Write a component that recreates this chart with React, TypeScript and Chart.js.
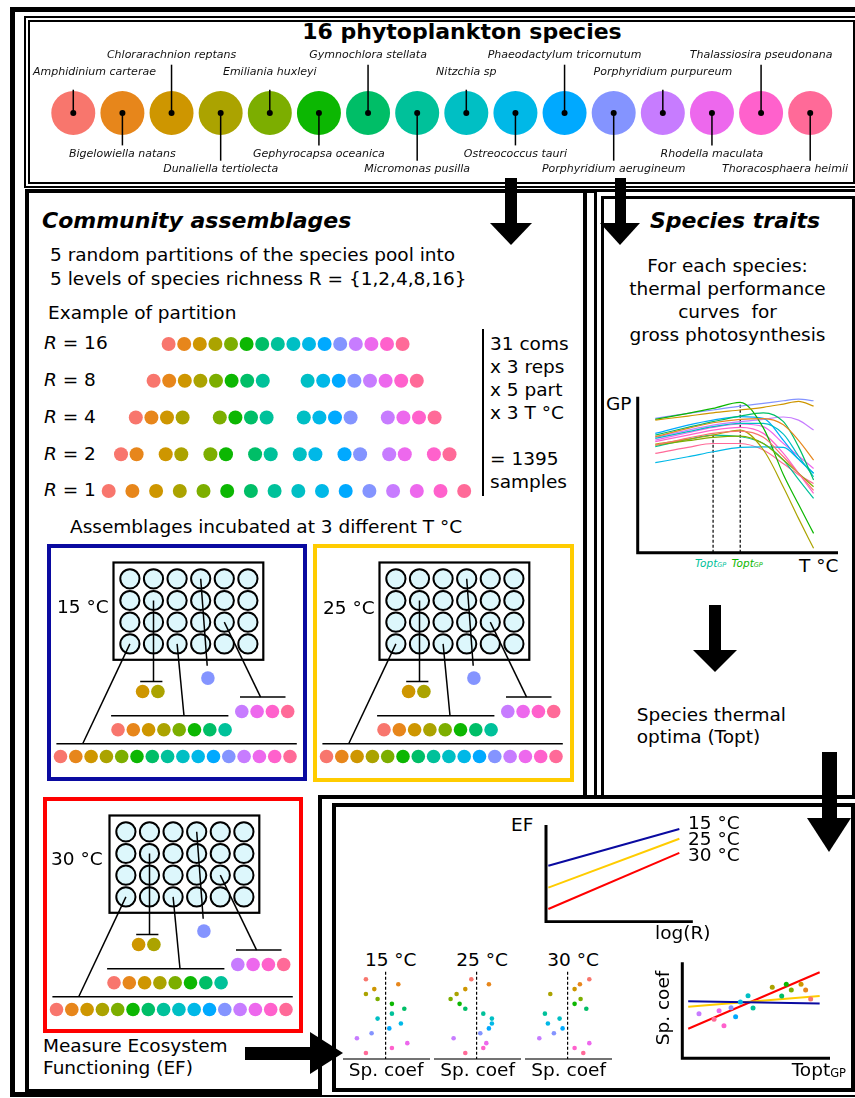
import React, { useEffect, useRef } from "react";
import { Chart, registerables } from "chart.js";

Chart.register(...registerables);

const FONT = '"DejaVu Sans", Verdana, sans-serif';
const BODY = 18.5;

// ======================= DATA =======================
const speciesNames = [
  "Amphidinium carterae", "Bigelowiella natans", "Chlorarachnion reptans", "Dunaliella tertiolecta",
  "Emiliania huxleyi", "Gephyrocapsa oceanica", "Gymnochlora stellata", "Micromonas pusilla",
  "Nitzchia sp", "Ostreococcus tauri", "Phaeodactylum tricornutum", "Porphyridium aerugineum",
  "Porphyridium purpureum", "Rhodella maculata", "Thalassiosira pseudonana", "Thoracosphaera heimii",
];
const speciesColors = [
  "#F8766D", "#E7861B", "#CE9600", "#ABA300", "#7CAE00", "#0CB702", "#00BE67", "#00C19A",
  "#00BFC4", "#00B8E7", "#00A9FF", "#8494FF", "#C77CFF", "#ED68ED", "#FF61CC", "#FF6A98",
];
const richnessLevels = [16, 8, 4, 2, 1];
const designLines = ["31 coms", "x 3 reps", "x 5 part", "x 3 T °C", "", "= 1395", "samples"];
const temperatures = ["15 °C", "25 °C", "30 °C"];
const temperatureColors = ["#0A0AA0", "#FFCC00", "#FF0000"];
// species sampled in the example wells of each plate
const plateAssemblages = [
  [0, 1, 2, 3, 4, 5, 6, 7, 8, 9, 10, 11, 12, 13, 14, 15],
  [2, 3],
  [0, 1, 2, 3, 4, 5, 6, 7],
  [11],
  [12, 13, 14, 15],
];
// thermal performance curves (GP vs T)
const gpTemps = [3.5, 10, 15, 20.4, 25, 29, 32, 35];
const gpCurves = [
  [69, 73.5, 76.5, 78, 74, 61.5, 51, 40],
  [74.4, 79.7, 83.3, 85.5, 86, 82, 72, 59.4],
  [85, 87.6, 89.7, 91.5, 93.2, 95.3, 97, 94],
  [69.7, 72.6, 75.4, 78.6, 66, 42, 22, 2.8],
  [69, 71.8, 73.9, 74.8, 70, 59.4, 51, 42.3],
  [85.5, 89.3, 92.5, 96.4, 80, 50, 31, 12.4],
  [75.4, 80.3, 84, 87.6, 89.7, 84, 68, 46.6],
  [68, 72.6, 75.4, 74.4, 70, 59.4, 47, 34.8],
  [73.3, 77.6, 80.8, 82.9, 82.9, 76, 62, 48.7],
  [57.7, 61.5, 64.7, 67.5, 67.9, 67.5, 60, 50.9],
  [76.5, 81.8, 85, 87.2, 86.1, 72, 60, 50.9],
  [86.1, 89.3, 91.5, 94, 95.7, 97.4, 98.5, 97.4],
  [73.9, 78.6, 81.8, 84, 85.5, 87, 85, 78.6],
  [72.2, 76.9, 80.3, 82.5, 80.8, 70, 62, 54],
  [71.2, 75.4, 78.6, 80.3, 76.5, 63.7, 51, 38],
  [63.7, 67.5, 70, 70, 65.8, 57, 50, 44.4],
];
const toptSpecies = [7, 5];
const toptTemps = [15, 20.4];
const toptPeakGP = [75.4, 96.4];
// EF vs log(R)
const efLogR = [0.07, 4];
const ef15 = [5.79, 9.59];
const ef25 = [3.52, 8.58];
const ef30 = [1.31, 7.12];
// species coefficients per temperature (species order)
const spCoef15 = [-1.97, 1.27, -1.13, -1.97, -0.8, 0.63, 1.87, 0.63, -0.8, 1.53, 0.37, -1.4, -2.87, 2.17, 0.63, -1.97];
const spCoef25 = [-0.53, 1.23, -1.13, -2.0, -2.6, -1.7, -1.13, 0.67, 1.53, 1.53, 1.23, 0.37, -2.3, 0.97, 0.67, -1.13];
const spCoef30 = [2.17, 1.23, 0.7, -1.73, 1.3, 0.7, 1.87, -2.27, -0.8, -1.97, -0.5, -1.37, -2.83, 2.17, 0.7, 1.57];
// species coefficient vs Topt
const toptGP = [8.69, 8.35, 8.04, 6.09, 7.38, 7.04, 6.73, 4.79, 4.45, 3.93, 3.61, 3.3, 1.13, 2.49, 2.82, 2.15];
const spCoefTopt = [6.18, 7.12, 7.71, 7.4, 7.12, 7.71, 6.49, 5.24, 6.52, 5.87, 4.33, 5.27, 4.65, 4.96, 3.4, 4.06];
const fitTopt = [0.4, 9.3];
const fit15 = [5.95, 5.71];
const fit25 = [5.38, 6.49];
const fit30 = [3.08, 8.96];

// ======================= LAYOUT =======================
const PARTITION_LAYOUT: Record<number, { start: number; pitch: number }> = {
  16: { start: 168.6, pitch: 0 },
  8: { start: 153.6, pitch: 154 },
  4: { start: 135.8, pitch: 84 },
  2: { start: 121, pitch: 44.7 },
  1: { start: 108.7, pitch: 23.7 },
};
const PARTITION_DX = 15.6;
const PLATE = { w: 149.8, h: 97.3, x0: 16.4, dx: 23.6, y0: 16.3, dy: 21.7, wellR: 9.6, dotR: 6.8, dotDX: 15.3, offX: 66.5, offY: 18.5 };
const PLATE_LINKS = [
  { well: [3, 0], end: [-30.8, 181.3], bar: [-57.1, 183.3], dotX0: -53, dotY: 194 },
  { well: [1, 1], end: [40, 119], bar: [26.7, 48.9], dotX0: 29.1, dotY: 129 },
  { well: [3, 2], end: [70.5, 153.3], bar: [-2.4, 114.9], dotX0: 4.5, dotY: 167.3 },
  { well: [0, 3], end: [93.7, 103.3], bar: null as null | number[], dotX0: 94.4, dotY: 115.6 },
  { well: [2, 4], end: [147.1, 134.6], bar: [126.5, 172], dotX0: 128.3, dotY: 149 },
];
const PLATE_BOXES = [
  { left: 47, top: 544, w: 260, h: 237, label: { x: 57, y: 613.3 } },
  { left: 313, top: 544, w: 261, h: 238, label: { x: 323, y: 615 } },
  { left: 43, top: 797, w: 260, h: 236, label: { x: 51, y: 866 } },
];

// ======================= HELPERS =======================
function baseOptions(xmin: number, xmax: number, ymin: number, ymax: number, reverseY = false): any {
  return {
    responsive: false,
    animation: false,
    events: [],
    layout: { padding: 0, autoPadding: false },
    plugins: { legend: { display: false }, tooltip: { enabled: false } },
    scales: {
      x: { type: "linear", display: false, min: xmin, max: xmax },
      y: { type: "linear", display: false, min: ymin, max: ymax, reverse: reverseY },
    },
  };
}
function lineDs(points: any[], color: string, width: number, extra: any = {}) {
  return { data: points, showLine: true, pointRadius: 0, borderColor: color, backgroundColor: color, borderWidth: width, fill: false, clip: false, order: 1, ...extra };
}
function pointDs(points: any[], colors: any, radius: number, extra: any = {}) {
  return { data: points, showLine: false, pointRadius: radius, pointBackgroundColor: colors, pointBorderColor: colors, pointBorderWidth: 0, clip: false, order: 0, ...extra };
}
function lAxes(x0: number, y0: number, xEnd: number, yEnd: number, lw = 3) {
  return {
    id: "lAxes",
    afterDatasetsDraw(chart: any) {
      const { ctx } = chart;
      const xs = chart.scales.x, ys = chart.scales.y;
      const px0 = xs.getPixelForValue(x0), py0 = ys.getPixelForValue(y0);
      ctx.save();
      ctx.strokeStyle = "#000";
      ctx.lineWidth = lw;
      ctx.lineJoin = "miter";
      ctx.beginPath();
      ctx.moveTo(px0, ys.getPixelForValue(yEnd));
      ctx.lineTo(px0, py0);
      ctx.lineTo(xs.getPixelForValue(xEnd), py0);
      ctx.stroke();
      ctx.restore();
    },
  };
}

function ChartBox({ left, top, width, height, build }: { left: number; top: number; width: number; height: number; build: () => any }) {
  const ref = useRef<HTMLCanvasElement>(null);
  useEffect(() => {
    if (!ref.current) return;
    const chart = new Chart(ref.current, build());
    return () => chart.destroy();
  }, []);
  return <canvas ref={ref} width={width} height={height} style={{ position: "absolute", left, top, width, height }} />;
}

// ======================= CHART BUILDERS =======================
function buildSpecies() {
  const tiers = [
    { line: -23.3, base: -38.3 },
    { line: 32.4, base: 43.7 },
    { line: -48.3, base: -55 },
    { line: 47.7, base: 58.7 },
  ];
  const labels = {
    id: "speciesLabels",
    afterDatasetsDraw(chart: any) {
      const { ctx } = chart;
      const xs = chart.scales.x, ys = chart.scales.y;
      ctx.save();
      ctx.font = `italic 11px ${FONT}`;
      ctx.textBaseline = "alphabetic";
      speciesNames.forEach((name, i) => {
        const px = xs.getPixelForValue(i), py = ys.getPixelForValue(0);
        const t = tiers[i % 4];
        ctx.strokeStyle = "#000";
        ctx.lineWidth = 1.5;
        ctx.beginPath();
        ctx.moveTo(px, py);
        ctx.lineTo(px, py + t.line);
        ctx.stroke();
        ctx.fillStyle = "#000";
        ctx.beginPath();
        ctx.arc(px, py, 3, 0, Math.PI * 2);
        ctx.fill();
        const w = ctx.measureText(name).width;
        const tx = Math.max(3, Math.min(chart.width - 2 - w, px - w / 2));
        ctx.fillStyle = "#111";
        ctx.fillText(name, tx, py + t.base);
      });
      ctx.restore();
    },
  };
  return {
    type: "scatter",
    data: { datasets: [pointDs(speciesNames.map((_, i) => ({ x: i, y: 0 })), speciesColors, 22)] },
    options: baseOptions(-0.881, 15.81, -1, 1),
    plugins: [labels],
  };
}

function buildPartitions() {
  const pts: any[] = [];
  const cols: string[] = [];
  richnessLevels.forEach((R, r) => {
    const L = PARTITION_LAYOUT[R];
    speciesNames.forEach((_, i) => {
      const g = Math.floor(i / R), k = i % R;
      pts.push({ x: L.start + g * L.pitch + k * PARTITION_DX, y: r });
      cols.push(speciesColors[i]);
    });
  });
  return {
    type: "scatter",
    data: { datasets: [pointDs(pts, cols, 7)] },
    options: baseOptions(100, 480, -0.272, 4.245, true),
  };
}

function buildPlate(w: number, h: number) {
  return () => {
    const xmin = -(PLATE.offX - 4), ymin = -(PLATE.offY - 4);
    const wells: any[] = [];
    for (let r = 0; r < 4; r++) for (let c = 0; c < 6; c++) wells.push({ x: PLATE.x0 + c * PLATE.dx, y: PLATE.y0 + r * PLATE.dy });
    const datasets: any[] = [
      pointDs(wells, "#DDF7FC", PLATE.wellR, { pointBorderColor: "#000", pointBorderWidth: 2, order: 3 }),
    ];
    PLATE_LINKS.forEach((lk, gi) => {
      const wx = PLATE.x0 + lk.well[1] * PLATE.dx, wy = PLATE.y0 + lk.well[0] * PLATE.dy;
      datasets.push(lineDs([{ x: wx, y: wy }, { x: lk.end[0], y: lk.end[1] }], "#000", 1.5, { order: 1 }));
      if (lk.bar) datasets.push(lineDs([{ x: lk.bar[0], y: lk.end[1] }, { x: lk.bar[1], y: lk.end[1] }], "#000", 1.5, { order: 1 }));
      const sp = plateAssemblages[gi];
      datasets.push(pointDs(sp.map((_, k) => ({ x: lk.dotX0 + k * PLATE.dotDX, y: lk.dotY })), sp.map((s) => speciesColors[s]), PLATE.dotR, { order: 0 }));
    });
    const rect = {
      id: "plateRect",
      beforeDatasetsDraw(chart: any) {
        const { ctx } = chart;
        const xs = chart.scales.x, ys = chart.scales.y;
        const x1 = xs.getPixelForValue(0), y1 = ys.getPixelForValue(0);
        const x2 = xs.getPixelForValue(PLATE.w), y2 = ys.getPixelForValue(PLATE.h);
        ctx.save();
        ctx.strokeStyle = "#000";
        ctx.lineWidth = 2.2;
        ctx.strokeRect(x1, y1, x2 - x1, y2 - y1);
        ctx.restore();
      },
    };
    return {
      type: "scatter",
      data: { datasets },
      options: baseOptions(xmin, xmin + w, ymin, ymin + h, true),
      plugins: [rect],
    };
  };
}

function buildGP() {
  const datasets: any[] = gpCurves.map((curve, i) =>
    lineDs(gpTemps.map((t, j) => ({ x: t, y: curve[j] })), speciesColors[i], 1.2, { cubicInterpolationMode: "monotone" })
  );
  toptTemps.forEach((t, k) => {
    datasets.push(lineDs([{ x: t, y: 0 }, { x: t, y: toptPeakGP[k] }], "#000", 1.2, { borderDash: [3, 2] }));
  });
  return {
    type: "scatter",
    data: { datasets },
    options: baseOptions(-0.34, 39.86, -1.47, 101.1),
    plugins: [lAxes(0, 0, 39.86, 100, 3)],
  };
}

function buildEF() {
  const sets = [ef15, ef25, ef30];
  return {
    type: "scatter",
    data: { datasets: sets.map((s, i) => lineDs(efLogR.map((x, j) => ({ x, y: s[j] })), temperatureColors[i], 2)) },
    options: baseOptions(-0.06, 4.44, -0.134, 10.21),
    plugins: [lAxes(0, 0, 4.405, 10, 3)],
  };
}

function buildStrip(coefs: number[]) {
  return () => {
    const axis = {
      id: "stripAxis",
      beforeDatasetsDraw(chart: any) {
        const { ctx } = chart;
        const ys = chart.scales.y;
        const py = ys.getPixelForValue(16.23);
        ctx.save();
        ctx.strokeStyle = "#444";
        ctx.lineWidth = 1.5;
        ctx.beginPath();
        ctx.moveTo(0, py);
        ctx.lineTo(chart.width, py);
        ctx.stroke();
        ctx.restore();
      },
    };
    return {
      type: "scatter",
      data: {
        datasets: [
          lineDs([{ x: 0, y: -1.55 }, { x: 0, y: 16.23 }], "#000", 1.2, { borderDash: [3, 2] }),
          pointDs(coefs.map((c, i) => ({ x: c, y: i })), speciesColors, 2.3),
        ],
      },
      options: baseOptions(-4.26, 4.44, -2.3, 16.64, true),
      plugins: [axis],
    };
  };
}

function buildTopt() {
  const fits = [fit15, fit25, fit30];
  return {
    type: "scatter",
    data: {
      datasets: [
        ...fits.map((f, i) => lineDs(fitTopt.map((x, j) => ({ x, y: f[j] })), temperatureColors[i], 2)),
        pointDs(toptGP.map((x, i) => ({ x, y: spCoefTopt[i] })), speciesColors, 2.5),
      ],
    },
    options: baseOptions(-0.156, 10.135, -0.281, 10.24),
    plugins: [lAxes(0, 0, 10, 10, 3)],
  };
}

// ======================= DOM HELPERS =======================
function Txt({ x, y, size = BODY, children, bold = false, italic = false, align = "left", color = "#000" }: any) {
  const tr = align === "center" ? "translateX(-50%)" : align === "right" ? "translateX(-100%)" : undefined;
  return (
    <div
      style={{
        position: "absolute", left: x, top: y - 0.846 * size, fontFamily: FONT, fontSize: size,
        lineHeight: `${size}px`, fontWeight: bold ? "bold" : "normal", fontStyle: italic ? "italic" : "normal",
        color, whiteSpace: "pre", transform: tr,
      }}
    >
      {children}
    </div>
  );
}
function Box({ left, top, width, height, style }: any) {
  return <div style={{ position: "absolute", left, top, width, height, boxSizing: "border-box", ...style }} />;
}
function DownArrow({ cx, top, shaftW, headTop, headW, tip }: any) {
  return (
    <>
      <div style={{ position: "absolute", left: cx - shaftW / 2, top, width: shaftW, height: headTop - top + 1, background: "#000" }} />
      <div style={{ position: "absolute", left: cx - headW / 2, top: headTop, width: 0, height: 0, borderLeft: `${headW / 2}px solid transparent`, borderRight: `${headW / 2}px solid transparent`, borderTop: `${tip - headTop}px solid #000` }} />
    </>
  );
}
function RightArrow({ cy, left, shaftH, headLeft, headH, tip }: any) {
  return (
    <>
      <div style={{ position: "absolute", left, top: cy - shaftH / 2, width: headLeft - left + 1, height: shaftH, background: "#000" }} />
      <div style={{ position: "absolute", left: headLeft, top: cy - headH / 2, width: 0, height: 0, borderTop: `${headH / 2}px solid transparent`, borderBottom: `${headH / 2}px solid transparent`, borderLeft: `${tip - headLeft}px solid #000` }} />
    </>
  );
}
const Sub = ({ children }: any) => <span style={{ fontSize: "0.62em", position: "relative", top: "0.05em" }}>{children}</span>;

// ======================= APP =======================
export default function App() {
  const stripLefts = [342.7, 434.1, 525.1];
  const stripCoefs = [spCoef15, spCoef25, spCoef30];
  return (
    <div style={{ position: "absolute", left: 0, top: 0, width: 855, height: 1098, overflow: "hidden", background: "#fff" }}>
      {/* frames */}
      <Box left={10} top={7} width={900} height={1090} style={{ border: "5px solid #000" }} />
      <Box left={24} top={16} width={835} height={172} style={{ border: "6px double #000" }} />
      <Box left={25} top={189} width={562} height={904} style={{ border: "4px solid #000" }} />
      <Box left={585} top={189} width={12} height={4} style={{ background: "#000" }} />
      <Box left={594} top={189} width={268} height={612} style={{ borderLeft: "10px double #000", borderTop: "10px double #000", borderRight: "10px double #000" }} />
      <Box left={318} top={795} width={600} height={300} style={{ borderLeft: "4px solid #000", borderTop: "4px solid #000", background: "#fff" }} />
      <Box left={332} top={803} width={523} height={289} style={{ border: "4px solid #000", background: "#fff" }} />

      {/* species pool */}
      <Txt x={462} y={40} size={22} bold align="center">16 phytoplankton species</Txt>
      <ChartBox left={30} top={46} width={820} height={134} build={buildSpecies} />

      {/* community assemblages */}
      <Txt x={42} y={229} size={22} bold italic>Community assemblages</Txt>
      <Txt x={50} y={262}>5 random partitions of the species pool into</Txt>
      <Txt x={50} y={286}>5 levels of species richness R = {"{1,2,4,8,16}"}</Txt>
      <Txt x={48} y={320}>Example of partition</Txt>
      {richnessLevels.map((R, r) => (
        <Txt key={R} x={44} y={350 + r * 36.75}>
          <i>R</i>{` = ${R}`}
        </Txt>
      ))}
      <ChartBox left={100} top={334} width={380} height={166} build={buildPartitions} />
      <Box left={481.5} top={329} width={2} height={167} style={{ background: "#000" }} />
      {designLines.map((t, k) => (
        <Txt key={k} x={490} y={350.7 + k * 23}>{t}</Txt>
      ))}
      <Txt x={70} y={534}>Assemblages incubated at 3 different T °C</Txt>

      {PLATE_BOXES.map((b, p) => (
        <React.Fragment key={p}>
          <Box left={b.left} top={b.top} width={b.w} height={b.h} style={{ border: `4px solid ${temperatureColors[p]}` }} />
          <ChartBox left={b.left + 4} top={b.top + 4} width={b.w - 8} height={b.h - 8} build={buildPlate(b.w - 8, b.h - 8)} />
          <Txt x={b.label.x} y={b.label.y}>{temperatures[p]}</Txt>
        </React.Fragment>
      ))}
      <Txt x={43} y={1053}>Measure Ecosystem</Txt>
      <Txt x={43} y={1075}>Functioning (EF)</Txt>

      {/* species traits */}
      <Txt x={650} y={229} size={22} bold italic>Species traits</Txt>
      <Txt x={727.5} y={273} align="center">For each species:</Txt>
      <Txt x={727.5} y={296} align="center">thermal performance</Txt>
      <Txt x={727.5} y={319} align="center">curves  for</Txt>
      <Txt x={727.5} y={342} align="center">gross photosynthesis</Txt>
      <Txt x={606} y={410.7}>GP</Txt>
      <ChartBox left={636} top={395} width={202} height={160} build={buildGP} />
      <Txt x={799} y={573}>T °C</Txt>
      <Txt x={695} y={566.7} size={10.5} italic color={speciesColors[toptSpecies[0]]}>Topt<Sub>GP</Sub></Txt>
      <Txt x={731.5} y={566.7} size={10.5} italic color={speciesColors[toptSpecies[1]]}>Topt<Sub>GP</Sub></Txt>
      <Txt x={636.7} y={721.7}>Species thermal</Txt>
      <Txt x={636.7} y={744}>optima (Topt)</Txt>

      {/* EF panel */}
      <Txt x={511} y={831.7}>EF</Txt>
      <ChartBox left={544} top={823} width={150} height={100} build={buildEF} />
      {temperatures.map((t, i) => (
        <Txt key={t} x={688} y={830 + i * 15.8}>{t}</Txt>
      ))}
      <Txt x={655} y={940}>log(R)</Txt>

      {stripLefts.map((l, i) => (
        <React.Fragment key={i}>
          <Txt x={l + 48} y={966.7} align="center">{temperatures[i]}</Txt>
          <ChartBox left={l} top={968} width={87} height={93} build={buildStrip(stripCoefs[i])} />
          <Txt x={l + 43.5} y={1076.7} align="center">Sp. coef</Txt>
        </React.Fragment>
      ))}

      <div style={{ position: "absolute", left: 663, top: 1008, fontFamily: FONT, fontSize: BODY, lineHeight: `${BODY}px`, whiteSpace: "pre", transform: "translate(-50%, -50%) rotate(-90deg)" }}>Sp. coef</div>
      <ChartBox left={680} top={960} width={152} height={101} build={buildTopt} />
      <Txt x={846} y={1076.7} align="right">Topt<Sub>GP</Sub></Txt>

      {/* arrows */}
      <DownArrow cx={511} top={178} shaftW={12} headTop={223} headW={43} tip={245} />
      <DownArrow cx={620} top={178} shaftW={11} headTop={223} headW={41} tip={245} />
      <DownArrow cx={715} top={605} shaftW={12} headTop={650} headW={44} tip={672} />
      <DownArrow cx={829} top={752} shaftW={15} headTop={818} headW={44} tip={852} />
      <RightArrow cy={1053.3} left={245} shaftH={13.3} headLeft={310} headH={42} tip={343} />
    </div>
  );
}
